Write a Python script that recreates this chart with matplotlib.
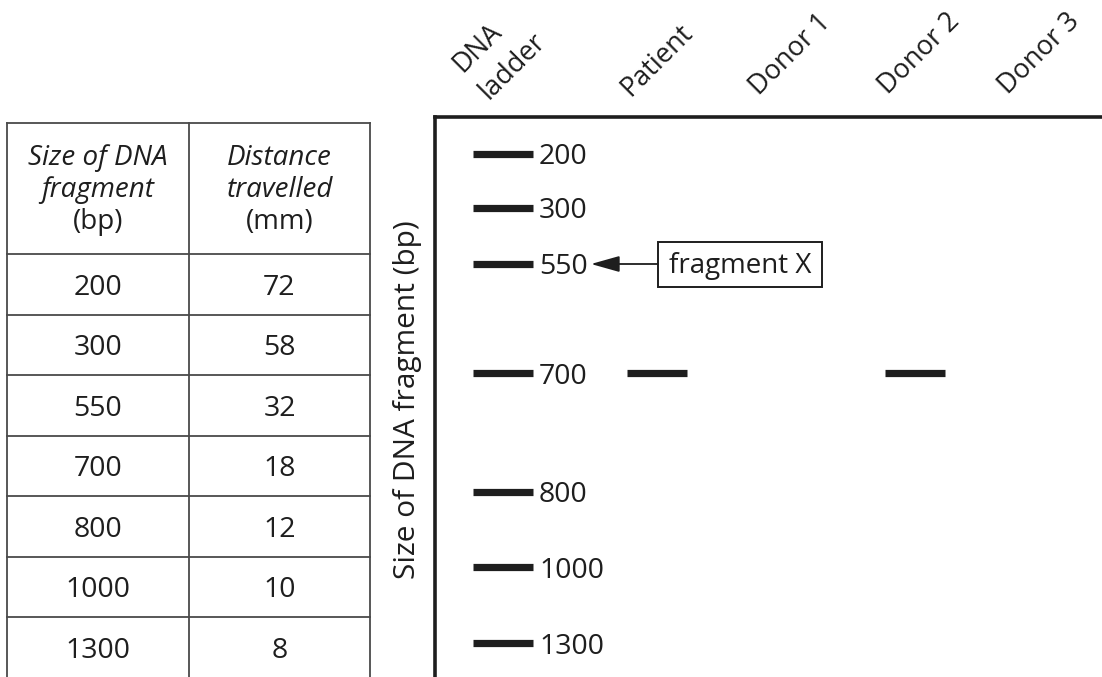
import matplotlib
matplotlib.use("Agg")
import matplotlib.pyplot as plt
from matplotlib.patches import Rectangle

plt.rcParams['font.family'] = ['Open Sans', 'DejaVu Sans']

# --- data ---
table_size_bp = [200, 300, 550, 700, 800, 1000, 1300]
table_distance_mm = [72, 58, 32, 18, 12, 10, 8]

lanes = ['DNA\nladder', 'Patient', 'Donor 1', 'Donor 2', 'Donor 3']
ladder_bp = [200, 300, 550, 700, 800, 1000, 1300]
# depth of each ladder band below the top of the gel (as drawn, px)
ladder_depth = [37, 91, 147, 256, 375, 450, 526]
# bands in the sample lanes, given as fragment size (bp)
sample_bands = {'Patient': [700], 'Donor 1': [], 'Donor 2': [700], 'Donor 3': []}
fragment_x_bp = 550

# --- layout (pixels) ---
W, H = 1102, 677
fig = plt.figure(figsize=(W / 100, H / 100), dpi=100)
ax = fig.add_axes([0, 0, 1, 1])
ax.set_xlim(0, W)
ax.set_ylim(H, 0)
ax.axis('off')

ink = '#1e1e1e'
grid = '#4a4a4a'

# table
col_x = [7, 189, 370]
top, head_bot, row_h = 123, 254, 60.5
n = len(table_size_bp)
bottom = head_bot + n * row_h
for x in col_x:
    ax.plot([x, x], [top, bottom], color=grid, lw=1.3)
ax.plot([col_x[0], col_x[-1]], [top, top], color=grid, lw=1.3)
for i in range(n + 1):
    y = head_bot + i * row_h
    ax.plot([col_x[0], col_x[-1]], [y, y], color=grid, lw=1.3)

c1 = (col_x[0] + col_x[1]) / 2
c2 = (col_x[1] + col_x[2]) / 2
hdr1 = [('Size of DNA', 'italic'), ('fragment', 'italic'), ('(bp)', 'normal')]
hdr2 = [('Distance', 'italic'), ('travelled', 'italic'), ('(mm)', 'normal')]
for k, ((t1, s1), (t2, s2)) in enumerate(zip(hdr1, hdr2)):
    yb = 165 + k * 32
    ax.text(c1, yb, t1, style=s1, fontsize=20, ha='center', va='baseline', color=ink)
    ax.text(c2, yb, t2, style=s2, fontsize=20, ha='center', va='baseline', color=ink)

for i, (s, d) in enumerate(zip(table_size_bp, table_distance_mm)):
    yc = head_bot + (i + 0.5) * row_h
    ax.text(c1, yc + 10.5, str(s), fontsize=20.5, ha='center', va='baseline', color=ink)
    ax.text(c2, yc + 10.5, str(d), fontsize=20.5, ha='center', va='baseline', color=ink)

# gel
gel_left, gel_top = 435, 117
ax.plot([gel_left, gel_left], [H + 5, gel_top], color=ink, lw=2.6, solid_capstyle='projecting')
ax.plot([gel_left, W + 5], [gel_top, gel_top], color=ink, lw=2.6, solid_capstyle='projecting')

lane_left = [473, 627, 756, 885, 1014]
band_w = 60
depth_of = dict(zip(ladder_bp, ladder_depth))

for bp, dep in zip(ladder_bp, ladder_depth):
    y = gel_top + dep
    ax.plot([lane_left[0], lane_left[0] + band_w], [y, y], color=ink, lw=5.2, solid_capstyle='butt')
    ax.text(lane_left[0] + band_w + 6, y + 10.5, str(bp), fontsize=20.5, ha='left', va='baseline', color=ink)

for j, name in enumerate(lanes[1:], start=1):
    for bp in sample_bands[name]:
        y = gel_top + depth_of[bp]
        ax.plot([lane_left[j], lane_left[j] + band_w], [y, y], color=ink, lw=5.2, solid_capstyle='butt')

# lane headers
header_anchor = [(462, 73), (630, 97), (759, 96), (888, 95), (1008, 95)]
for name, (hx, hy) in zip(lanes, header_anchor):
    lines = name.split('\n')
    for k, line in enumerate(lines):
        ax.text(hx + k * 27, hy + k * 27, line, rotation=45, rotation_mode='anchor',
                ha='left', va='baseline', fontsize=19.5, color=ink)

# y label
ax.text(408, 400, 'Size of DNA fragment (bp)', rotation=90, ha='center', va='center',
        fontsize=21.5, color=ink)

# fragment X annotation
fy = gel_top + depth_of[fragment_x_bp]
bx, bw, bh = 658, 164, 45
ax.add_patch(Rectangle((bx, fy - bh / 2), bw, bh, fill=False, ec=ink, lw=1.4))
ax.text(bx + bw / 2, fy + 9, 'fragment X', fontsize=20, ha='center', va='baseline', color=ink)
ax.annotate('', xy=(591, fy), xytext=(bx, fy),
            arrowprops=dict(arrowstyle='-|>,head_length=1.6,head_width=0.45',
                            mutation_scale=11, lw=1.3, color=ink, shrinkA=0, shrinkB=0))

fig.savefig('out.png', dpi=100)
